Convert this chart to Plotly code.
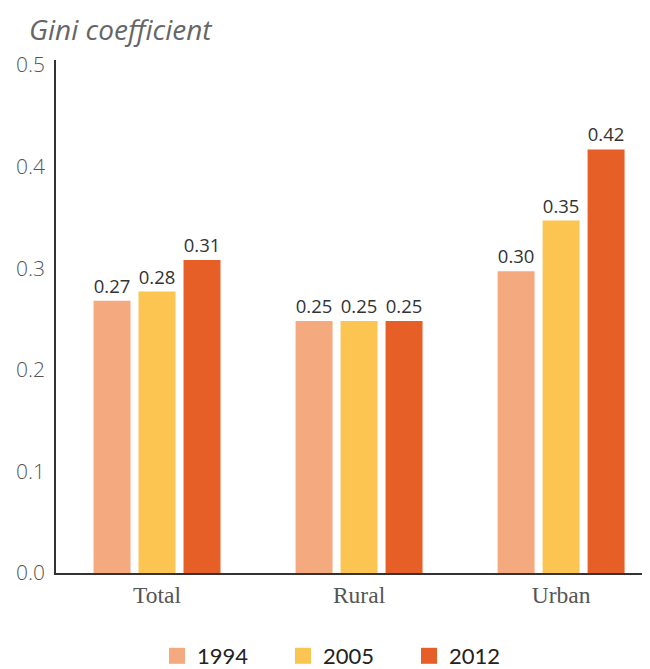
import plotly.graph_objects as go

categories = ["Total", "Rural", "Urban"]
years = ["1994", "2005", "2012"]
values_1994 = [0.268, 0.248, 0.297]
values_2005 = [0.277, 0.248, 0.347]
values_2012 = [0.308, 0.248, 0.417]
colors = ["#F5A97F", "#FCC450", "#E65F26"]

W, H = 642, 661  # page body has an 8px default margin

fig = go.Figure()
for name, vals, col in zip(years, [values_1994, values_2005, values_2012], colors):
    fig.add_trace(go.Bar(
        x=categories, y=vals, name=name, marker=dict(color=col, line=dict(width=0)),
        texttemplate="%{y:.2f}", textposition="outside", cliponaxis=False,
        textfont=dict(family="Open Sans", size=18.5, color="#333333"),
        showlegend=False, legendgroup=name,
    ))
# legend entries with larger square swatches
for name, col in zip(years, colors):
    fig.add_trace(go.Scatter(
        x=[categories[0]], y=[None], mode="markers", name=name, legendgroup=name,
        marker=dict(symbol="square", size=16, color=col), hoverinfo="skip",
    ))

fig.update_layout(
    width=W, height=H,
    margin=dict(l=48, r=0, t=52, b=96, autoexpand=False),
    paper_bgcolor="white", plot_bgcolor="white",
    barmode="group", bargap=0.332, bargroupgap=0.178,
    showlegend=True,
    legend=dict(orientation="h", xref="container", yref="container",
                x=149 / W, xanchor="left", y=1 - 648 / H, yanchor="middle",
                font=dict(family="Lato", size=22, color="#222222"),
                entrywidth=81, entrywidthmode="pixels", traceorder="normal"),
)
fig.add_annotation(text="<i>Gini coefficient</i>", xref="paper", yref="paper",
                   x=-28 / 594, y=1 + (52 - 0.5) / 513, xanchor="left", yanchor="top",
                   showarrow=False, borderpad=0,
                   font=dict(family="Open Sans", size=28, color="#666666"))
fig.update_xaxes(range=[-0.5, 2.44], showline=True, linecolor="#333333", linewidth=1.5,
                 ticks="", automargin=False,
                 tickfont=dict(family="Liberation Serif", size=23.5, color="#555555"),
                 showgrid=False)
fig.update_yaxes(range=[0, 0.505], showline=True, linecolor="#333333", linewidth=1.5,
                 tickvals=[0, 0.1, 0.2, 0.3, 0.4, 0.5], tickformat=".1f", ticks="",
                 ticklabelstandoff=5, automargin=False,
                 tickfont=dict(family="Open Sans", size=21, color="#555555", weight=300),
                 showgrid=False, zeroline=False)
fig.write_html("out.html")
